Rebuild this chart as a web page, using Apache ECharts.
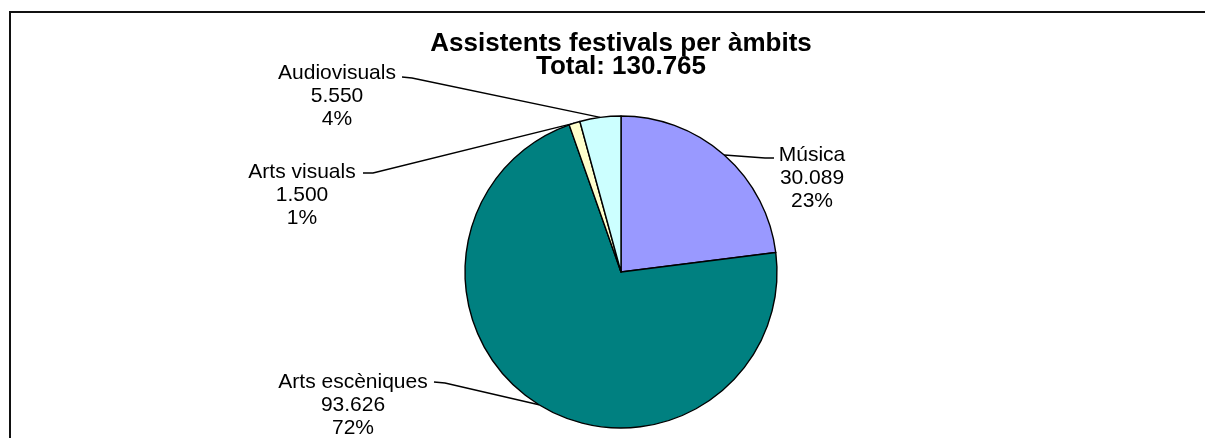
<!DOCTYPE html>
<html>
<head>
<meta charset="utf-8">
<script src="https://cdn.jsdelivr.net/npm/echarts@6/dist/echarts.min.js"></script>
<style>
html,body{margin:0;padding:0;background:#fff;}
#chart{width:1205px;height:438px;}
</style>
</head>
<body>
<div id="chart"></div>
<script>
// ---- data ----
const categories = ['Música', 'Arts escèniques', 'Arts visuals', 'Audiovisuals'];
const values = [30089, 93626, 1500, 5550];
const colors = ['#9999FF', '#008080', '#FFFFCC', '#CCFFFF'];
const titleLines = ['Assistents festivals per àmbits', 'Total: 130.765'];

// ---- layout (label anchor positions: centre x of block, centre y of first line, leader elbow & end) ----
const labelPlacement = [
  { x: 812, y: 155, elbow: [765, 158], end: [774, 158] },
  { x: 353, y: 382, elbow: [445, 383], end: [434, 382] },
  { x: 302, y: 172, elbow: [373, 173], end: [363, 173] },
  { x: 337, y: 73,  elbow: [412, 78],  end: [402, 77] }
];
const pieCenter = [621, 272];
const pieRadius = 156;

function fmt(v) {
  return String(v).replace(/\B(?=(\d{3})+(?!\d))/g, '.');
}

const chart = echarts.init(document.getElementById('chart'), null, { renderer: 'canvas' });
const font = "'Liberation Sans', Arial, sans-serif";
const labelLH = 23;

const total = values.reduce((a, b) => a + b, 0);
function edgePoint(i) {
  let before = 0;
  for (let k = 0; k < i; k++) before += values[k];
  const mid = (before + values[i] / 2) / total * Math.PI * 2;
  return [pieCenter[0] + pieRadius * Math.sin(mid), pieCenter[1] - pieRadius * Math.cos(mid)];
}

chart.setOption({
  animation: false,
  backgroundColor: '#ffffff',
  title: {
    text: titleLines.join('\n'),
    left: 621,
    top: 33,
    padding: 0,
    textAlign: 'center',
    textStyle: {
      fontFamily: font,
      fontWeight: 'bold',
      fontSize: 26,
      lineHeight: 22.5,
      color: '#000'
    }
  },
  graphic: [{
    type: 'rect',
    silent: true,
    shape: { x: 10, y: 12, width: 1400, height: 1000 },
    style: { fill: 'none', stroke: '#111', lineWidth: 2 }
  }],
  series: [{
    type: 'pie',
    center: pieCenter,
    radius: pieRadius,
    startAngle: 90,
    clockwise: true,
    data: categories.map((c, i) => ({ name: c, value: values[i], itemStyle: { color: colors[i] } })),
    itemStyle: { borderColor: '#000', borderWidth: 1.4 },
    label: {
      show: true,
      position: 'outside',
      fontFamily: font,
      fontSize: 21,
      lineHeight: labelLH,
      color: '#000',
      align: 'center',
      formatter: p => p.name + '\n' + fmt(p.value) + '\n' + Math.round(p.percent) + '%'
    },
    labelLine: {
      show: true,
      smooth: false,
      lineStyle: { color: '#000', width: 1.4 }
    },
    emphasis: { disabled: true },
    labelLayout: function (params) {
      const i = params.dataIndex;
      const cfg = labelPlacement[i];
      const start = edgePoint(i);
      return {
        x: cfg.x,
        y: cfg.y - labelLH / 2,
        align: 'center',
        verticalAlign: 'top',
        labelLinePoints: [start, cfg.elbow, cfg.end]
      };
    }
  }]
});
</script>
</body>
</html>
